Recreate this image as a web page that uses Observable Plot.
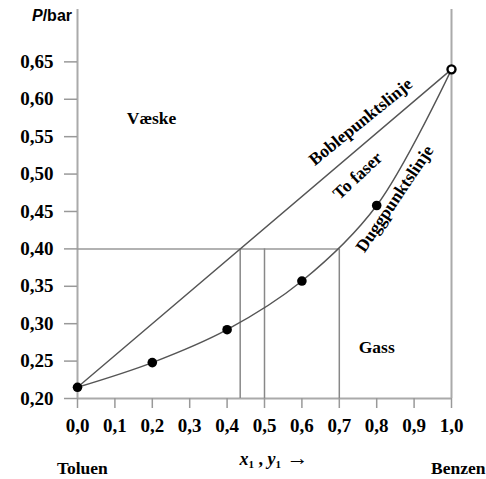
<!DOCTYPE html>
<html>
<head>
<meta charset="utf-8">
<script src="https://cdn.jsdelivr.net/npm/d3@7"></script>
<script src="https://cdn.jsdelivr.net/npm/@observablehq/plot@0.6"></script>
<style>
  html, body { margin: 0; padding: 0; background: #fff; }
</style>
</head>
<body>
<div id="chart"></div>
<script>
// ---- data ----
const xTicks = [0, 0.1, 0.2, 0.3, 0.4, 0.5, 0.6, 0.7, 0.8, 0.9, 1.0];
const yTicks = [0.20, 0.25, 0.30, 0.35, 0.40, 0.45, 0.50, 0.55, 0.60, 0.65];
const dewX = [0, 0.2, 0.4, 0.6, 0.8, 1.0];
const dewP = [0.215, 0.248, 0.292, 0.357, 0.458, 0.640];
const bubbleX = [0, 1.0];
const bubbleP = [0.215, 0.640];
const tieP = 0.40;
const tieX = [0.435, 0.5, 0.7];
const regionNames = ["Væske", "Gass"];
const regionX = [0.198, 0.80];
const regionP = [0.574, 0.268];
const lineNames = ["Boblepunktslinje", "To faser", "Duggpunktslinje"];
const lineX = [0.757, 0.749, 0.848];
const lineP = [0.570, 0.498, 0.467];
const lineAngle = [-39, -43, -56];
const componentNames = ["Toluen", "Benzen"];
const componentX = [0.013, 1.018];

const dew = dewX.map((x, i) => ({x, p: dewP[i]}));
const bubble = bubbleX.map((x, i) => ({x, p: bubbleP[i]}));
const ties = tieX.map(x => ({x, p: tieP}));
const regions = regionNames.map((t, i) => ({t, x: regionX[i], p: regionP[i]}));
const lineLabels = lineNames.map((t, i) => ({t, x: lineX[i], p: lineP[i], a: lineAngle[i]}));
const components = componentNames.map((t, i) => ({t, x: componentX[i]}));
const fmtX = d => d.toFixed(1).replace(".", ",");
const fmtY = d => d.toFixed(2).replace(".", ",");

const plot = Plot.plot({
  width: 486,
  height: 479,
  marginLeft: 77,
  marginRight: 35,
  marginTop: 9,
  marginBottom: 81,
  x: {domain: [0, 1]},
  y: {domain: [0.2, 0.72]},
  style: {fontFamily: "Liberation Serif", fontSize: "17.5px", fontWeight: "bold", background: "#fff", color: "#000"},
  marks: [
    Plot.ruleX([0, 1], {y1: 0.2, y2: 0.72, stroke: "#aaa", strokeWidth: 2}),
    Plot.ruleY([0.2], {x1: 0, x2: 1, stroke: "#aaa", strokeWidth: 2}),
    Plot.ruleY(ties.slice(0, 1), {y: "p", x1: 0, x2: () => tieX[tieX.length - 1], stroke: "#999", strokeWidth: 1.5}),
    Plot.ruleX(ties, {x: "x", y1: 0.2, y2: "p", stroke: "#888", strokeWidth: 1.5}),
    Plot.axisX({ticks: xTicks, tickSize: 10, stroke: "#999", strokeWidth: 1.5, tickFormat: () => "", label: null}),
    Plot.axisY({ticks: yTicks, tickSize: 13, stroke: "#999", strokeWidth: 1.5, tickFormat: () => "", label: null}),
    Plot.text(xTicks, {x: d => d, y: 0.2, dy: 27, text: fmtX, fontSize: 19, fill: "#000"}),
    Plot.text(yTicks, {x: 0, y: d => d, dx: -24, textAnchor: "end", text: fmtY, fontSize: 19, fill: "#000"}),
    Plot.line(bubble, {x: "x", y: "p", stroke: "#555", strokeWidth: 1.4}),
    Plot.line(dew, {x: "x", y: "p", stroke: "#555", strokeWidth: 1.4, curve: "catmull-rom"}),
    Plot.dot(dew.slice(0, -1), {x: "x", y: "p", r: 4.8, fill: "#000"}),
    Plot.dot(dew.slice(-1), {x: "x", y: "p", r: 4, fill: "#fff", stroke: "#000", strokeWidth: 2.4}),
    Plot.text(regions, {x: "x", y: "p", text: "t", fill: "#000"}),
    Plot.text(lineLabels, {x: "x", y: "p", text: "t", rotate: "a", fill: "#000"}),
    Plot.text(components, {x: "x", y: 0.2, dy: 70, text: "t", fill: "#000"})
  ]
});

const svg = d3.select(plot);
const sx = plot.scale("x"), sy = plot.scale("y");
const pl = svg.append("text")
  .attr("x", sx.apply(0) - 5).attr("y", sy.apply(0.72) + 6)
  .attr("text-anchor", "end").attr("dy", "0.35em")
  .style("font-family", "'Liberation Sans', Arial, sans-serif").style("font-weight", "bold").style("font-size", "16px");
pl.append("tspan").style("font-style", "italic").text("P");
pl.append("tspan").text("/bar");

const xl = svg.append("text")
  .attr("x", sx.apply(0.527)).attr("y", sy.apply(0.2) + 61)
  .attr("text-anchor", "middle").attr("dy", "0.35em")
  .style("font-family", "'Liberation Serif', serif").style("font-weight", "bold").style("font-size", "18px");
xl.append("tspan").style("font-style", "italic").text("x");
xl.append("tspan").attr("font-size", "11px").attr("dy", "3").text("1");
xl.append("tspan").attr("dy", "-3").text(" , ");
xl.append("tspan").style("font-style", "italic").text("y");
xl.append("tspan").attr("font-size", "11px").attr("dy", "3").text("1");
xl.append("tspan").attr("dy", "-3").attr("font-size", "22px").text(" →");

document.getElementById("chart").appendChild(plot);
</script>
</body>
</html>
